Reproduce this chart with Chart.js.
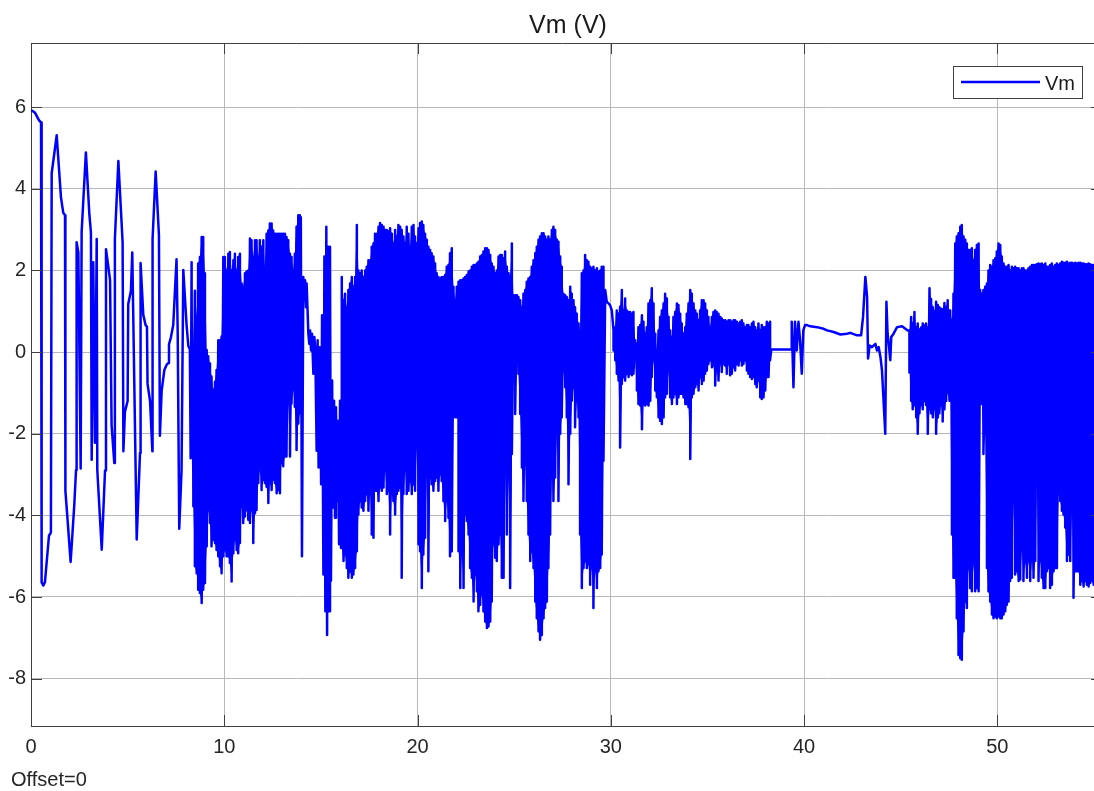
<!DOCTYPE html>
<html>
<head>
<meta charset="utf-8">
<script src="https://cdn.jsdelivr.net/npm/chart.js@4.4.1/dist/chart.umd.min.js"></script>
<style>
  html, body { margin: 0; padding: 0; background: #ffffff; }
  canvas { display: block; }
</style>
</head>
<body>
<canvas id="c" width="1094" height="791"></canvas>
<script>
// ---------- labels ----------
const titleText = "Vm (V)";
const seriesName = "Vm";
const offsetText = "Offset=0";
const xTickValues = [0, 10, 20, 30, 40, 50];
const yTickValues = [-8, -6, -4, -2, 0, 2, 4, 6];
const xRange = [0, 55];
const yRange = [-9.16, 7.57];

// ---------- sparse parts: single samples (time s, Vm V) ----------
const earlyT = [0,0.10,0.21,0.41,0.52,0.55,0.64,0.72,0.93,1.03,1.07,1.33,1.55,1.67,1.76,1.78,1.90,2.05,2.24,2.33,2.36,2.45,2.57,2.62,2.84,3.02,3.10,3.14,3.22,3.31,3.40,3.43,3.66,3.83,3.88,4.00,4.09,4.17,4.31,4.34,4.52,4.74,4.78,4.86,5.00,5.03,5.17,5.24,5.47,5.64,5.67,5.81,5.93,6.00,6.03,6.16,6.28,6.29,6.45,6.62,6.67,6.76,6.90,7.02,7.10,7.14,7.24,7.36,7.53,7.59,7.67,7.79,7.88,8.05,8.14,8.22,8.26];
const earlyV = [5.92,5.90,5.86,5.68,5.62,-5.64,-5.72,-5.64,-4.50,-4.42,4.38,5.31,3.79,3.41,3.35,-3.40,-4.16,-5.14,-3.74,-2.89,2.69,2.44,-2.85,2.94,4.89,3.37,2.94,-2.64,2.20,-2.22,2.77,-2.89,-4.84,-2.90,2.52,2.10,1.76,-1.80,-2.72,2.77,4.68,2.69,-2.43,-1.46,-1.20,1.17,1.50,2.44,-4.59,-2.47,2.18,0.91,0.66,0.62,-0.78,-1.20,-2.43,2.77,4.42,2.86,-2.05,-0.95,-0.44,-0.31,-0.27,0.19,0.36,0.66,2.27,0.49,-4.33,-2.89,2.01,0.66,0.15,0.07,-2.60];

const transAT = [13.96,14.02,14.09,14.14,14.18,14.23,14.26,14.31,14.35,14.40,14.44,14.49,14.54,14.61,14.66,14.71,14.78,14.83,14.88,14.95,15.01,15.06,15.13,15.18,15.23,15.28,15.32,15.37,15.42,15.47,15.52,15.58,15.63,15.68,15.73,15.78,15.83,15.89,15.94,15.99,16.04];
const transAV = [3.3,-5.0,1.84,1.27,1.76,1.1,1.68,1.02,0.45,0.2,0.53,0.04,0.45,-0.53,0.37,0.04,-2.42,0.29,-2.83,0.12,-3.24,0.9,-5.45,2.34,-6.35,3.07,-6.93,2.58,-6.35,2.58,-5.6,-0.7,-3.81,-1.19,-4.06,-1.35,-3.65,-1.68,-4.71,-1.19,-4.8];

const tailBT = [29.71,29.79,29.88,29.96,30.05];
const tailBV = [1.52,1.23,1.19,1.15,1.02];

const calmT = [38.30,39.34,39.36,39.45,39.53,39.62,39.71,39.79,39.88,39.96,40.05,40.15,40.32,40.67,41.01,41.19,41.53,41.88,42.22,42.39,42.74,42.95,43.05,43.17,43.26,43.31,43.39,43.51,43.69,43.77,43.86,43.95,44.03,44.12,44.20,44.26,44.32,44.38,44.46,44.51,44.63,44.81,45.07,45.36];
const calmV = [0.06,0.06,0.74,-0.86,0.74,0.04,0.74,0.29,-0.53,0.53,0.66,0.66,0.63,0.61,0.57,0.53,0.49,0.43,0.45,0.47,0.41,0.41,0.86,1.84,1.35,-0.16,0.16,0.12,0.2,0.04,0.12,-0.12,-0.45,-1.27,-2.0,1.23,0.45,0.2,-0.2,0.37,0.45,0.61,0.63,0.53];

// ---------- dense bursts: per sample time, the max and min reached ----------
const burstAT = [8.31,8.40,8.48,8.57,8.65,8.74,8.83,8.91,9.00,9.09,9.17,9.26,9.34,9.43,9.52,9.60,9.69,9.78,9.86,9.95,10.03,10.12,10.21,10.29,10.38,10.47,10.55,10.64,10.72,10.81,10.90,10.98,11.07,11.15,11.24,11.33,11.41,11.50,11.59,11.67,11.76,11.84,11.93,12.02,12.10,12.19,12.28,12.36,12.45,12.53,12.62,12.71,12.79,12.88,12.96,13.05,13.14,13.22,13.31,13.40,13.48,13.57,13.65,13.74,13.83,13.91];
const burstAMax = [2.2,0.2,1.5,0.86,2.17,2.33,2.82,2.82,1.93,0.05,-0.1,-0.28,-0.6,-0.93,-0.73,-0.44,0.29,0.29,0.38,2.33,2.33,2.0,2.41,2.45,2.0,2.25,2.41,2.0,2.33,2.41,1.68,1.6,1.93,1.97,2.0,2.78,2.74,2.33,2.74,2.74,2.33,2.74,2.58,2.74,2.09,2.9,2.98,3.15,3.15,2.98,2.9,2.9,2.9,2.9,2.9,2.9,2.9,2.82,2.74,2.41,2.33,2.0,2.41,3.07,3.35,3.35];
const burstAMin = [-2.56,-3.78,-5.25,-5.42,-5.82,-5.9,-6.15,-5.82,-5.66,-4.76,-3.87,-4.19,-4.76,-4.6,-4.68,-4.85,-5.0,-5.25,-5.42,-5.0,-4.85,-5.0,-5.0,-5.17,-5.62,-4.93,-4.6,-4.85,-4.93,-4.68,-3.78,-4.19,-4.03,-3.87,-4.11,-4.19,-3.87,-4.68,-3.95,-3.87,-3.21,-2.89,-3.38,-3.13,-3.21,-3.3,-3.7,-3.21,-3.38,-3.13,-3.21,-3.46,-3.38,-3.46,-2.72,-2.8,-2.56,-2.56,-1.26,-2.56,-1.26,-0.93,-1.34,-2.4,-1.75,-1.5];

const burstB1T = [16.08,16.17,16.25,16.34,16.42,16.51,16.60,16.68,16.77,16.86,16.94,17.03,17.11,17.20,17.29,17.37,17.46,17.55,17.63,17.72,17.80,17.89,17.98,18.06,18.15,18.24,18.32,18.41,18.49,18.58,18.67,18.75,18.84,18.93,19.01,19.10,19.18,19.27,19.36,19.44,19.53,19.61,19.70,19.79,19.87,19.96,20.05,20.13,20.22,20.30,20.39,20.48,20.56,20.65,20.73,20.82,20.91,20.99,21.08,21.17,21.25,21.34,21.43,21.51,21.60,21.68,21.77,21.86,21.94,22.03];
const burstB1Max = [1.84,1.27,1.43,1.1,1.52,1.68,1.84,1.6,1.84,3.11,2.0,1.93,2.0,1.84,2.0,2.09,2.25,2.25,2.58,2.66,2.9,2.9,3.07,3.16,3.11,3.07,2.99,2.99,2.95,3.03,2.9,2.66,2.99,2.83,3.11,3.07,2.99,2.83,2.66,3.07,2.9,2.58,3.07,3.11,2.83,2.66,3.03,3.16,3.2,3.11,2.9,2.75,2.58,2.5,2.42,2.34,2.17,1.93,1.84,1.8,1.84,1.84,1.89,2.09,2.13,2.42,2.54,1.6,1.27,1.6];
const burstB1Min = [-4.8,-5.12,-4.96,-5.29,-5.53,-5.37,-5.53,-5.45,-5.29,-4.88,-3.98,-3.65,-3.81,-3.89,-3.65,-3.48,-3.89,-3.48,-4.47,-4.55,-3.4,-3.4,-3.65,-3.32,-3.4,-3.32,-2.91,-3.48,-3.4,-4.47,-3.48,-3.65,-3.98,-3.48,-3.4,-3.32,-5.53,-3.48,-2.91,-3.48,-3.4,-3.16,-3.48,-3.24,-3.4,-2.34,-4.71,-4.88,-5.78,-4.96,-4.55,-2.99,-5.37,-3.07,-3.24,-3.4,-3.16,-3.07,-3.4,-2.99,-3.16,-3.65,-4.14,-3.65,-4.06,-5.0,-4.88,-1.52,-1.6,-1.6];

const burstB2T = [22.12,22.21,22.29,22.38,22.46,22.55,22.64,22.72,22.81,22.90,22.98,23.07,23.15,23.24,23.33,23.41,23.50,23.59,23.67,23.76,23.84,23.93,24.02,24.10,24.19,24.28,24.36,24.45,24.53,24.62,24.71,24.79,24.88,24.96,25.05,25.14,25.22,25.31,25.40,25.48,25.57,25.65,25.74,25.83,25.91,26.00,26.09,26.17,26.26,26.34,26.43,26.52,26.60,26.69,26.77,26.86,26.95,27.03,27.12,27.21,27.29,27.38,27.46,27.55,27.64,27.72,27.81,27.90,27.98,28.07,28.15,28.24,28.33,28.41,28.50,28.59,28.67,28.76,28.84,28.93,29.02,29.10,29.19,29.28,29.36,29.45,29.53,29.62];
const burstB2Max = [1.72,1.76,1.76,1.8,1.84,1.89,1.97,2.0,2.09,2.13,2.13,2.17,2.21,2.34,2.38,2.46,2.54,2.54,2.5,2.38,2.17,2.09,1.93,2.0,2.34,2.38,2.38,2.3,2.46,2.09,1.93,1.84,2.66,1.39,1.39,1.39,1.35,1.27,1.1,1.43,1.52,1.72,1.8,1.84,2.09,2.25,2.42,2.58,2.75,2.83,2.91,2.91,2.83,2.75,2.83,2.75,2.99,3.07,2.99,2.75,2.7,2.34,2.09,1.43,1.39,1.35,1.27,1.6,1.43,1.27,1.1,0.94,0.7,0.53,1.93,2.0,2.38,2.25,2.21,2.09,2.05,2.09,2.0,2.05,1.97,2.0,2.09,2.09];
const burstB2Min = [-4.88,-5.78,-4.96,-5.78,-3.98,-4.14,-4.47,-5.29,-5.53,-6.11,-5.45,-5.86,-6.35,-6.19,-5.94,-6.35,-6.6,-6.76,-6.72,-6.6,-6.11,-4.71,-5.04,-5.12,-4.71,-4.47,-5.53,-5.53,-2.99,-4.47,-3.07,-5.78,-2.5,-0.53,-1.52,-0.2,-0.53,-1.52,-2.83,-3.65,-2.75,-3.65,-4.47,-5.12,-4.88,-5.29,-6.11,-6.52,-6.84,-7.05,-6.93,-6.52,-6.27,-6.11,-5.29,-4.47,-3.07,-3.65,-3.07,-2.0,-3.65,-2.0,-1.6,-0.45,-0.86,-1.6,-3.24,-2.0,-1.19,-0.86,-1.84,-1.19,-1.6,-4.47,-5.78,-5.29,-5.12,-5.29,-5.2,-5.7,-5.29,-6.27,-5.37,-5.78,-5.37,-5.29,-4.96,-2.66];

const burstCT = [30.14,30.23,30.31,30.40,30.48,30.57,30.66,30.74,30.83,30.92,31.00,31.09,31.17,31.26,31.35,31.43,31.52,31.61,31.69,31.78,31.86,31.95,32.04,32.12,32.21,32.30,32.38,32.47,32.55,32.64,32.73,32.81,32.90,32.99,33.07,33.16,33.24,33.33,33.42,33.50,33.59,33.67,33.76,33.85,33.93,34.02,34.11,34.19,34.28,34.37,34.45,34.54,34.62,34.71,34.80,34.88,34.97,35.05,35.14,35.23,35.31,35.40,35.48,35.57,35.66,35.74,35.83,35.92,36.00,36.09,36.17,36.26,36.35,36.43,36.52,36.61,36.69,36.78,36.86,36.95,37.04,37.12,37.21,37.30,37.38,37.47,37.55,37.64,37.73,37.81,37.90,37.99,38.07,38.16,38.24];
const burstCMax = [0.53,0.61,1.02,0.94,1.11,1.52,1.02,1.31,1.02,0.98,0.98,0.94,0.98,0.29,0.2,0.61,0.66,0.9,0.74,0.45,0.61,1.19,1.27,1.56,1.19,0.45,0.04,0.53,0.86,1.02,1.19,1.43,1.31,0.86,0.53,0.37,0.86,0.98,1.19,1.15,0.94,0.7,0.45,0.61,0.94,1.19,1.52,1.43,1.19,1.02,0.94,0.78,1.02,1.27,1.27,1.19,1.02,0.86,0.61,0.86,0.98,1.02,0.98,0.94,0.86,0.82,0.78,0.78,0.74,0.78,0.78,0.74,0.78,0.78,0.74,0.7,0.74,0.78,0.7,0.61,0.66,0.66,0.61,0.7,0.74,0.61,0.53,0.7,0.53,0.66,0.61,0.61,0.74,0.7,0.74];
const burstCMin = [0.04,-0.2,-0.53,-0.7,-2.34,-0.78,-0.61,-0.7,-0.53,-0.61,-0.53,-0.57,-0.53,-0.2,-0.94,-1.27,-1.31,-1.89,-1.27,-1.31,-1.27,-1.31,-1.19,-0.61,-0.2,-0.94,-1.11,-1.6,-1.68,-1.76,-1.6,-1.11,-1.02,-0.45,-1.11,-1.27,-1.11,-1.02,-1.27,-1.11,-1.02,-1.02,-1.11,-1.27,-1.27,-1.35,-2.62,-1.11,-1.02,-0.86,-0.78,-0.94,-0.61,-0.78,-0.7,-0.53,-0.45,-0.29,-0.2,-0.37,-0.33,-0.82,-0.45,-0.7,-0.29,-0.49,-0.29,-0.33,-0.53,-0.29,-0.57,-0.53,-0.37,-0.45,-0.29,-0.33,-0.2,-0.33,-0.29,-0.2,-0.45,-0.53,-0.61,-0.66,-0.61,-0.78,-0.86,-0.7,-1.11,-1.15,-1.11,-0.94,-0.61,-0.61,-0.2];

const burstDT = [45.45,45.54,45.62,45.71,45.80,45.88,45.97,46.05,46.14,46.23,46.31,46.40,46.49,46.57,46.66,46.74,46.83,46.92,47.00,47.09,47.17,47.26,47.35,47.43,47.52];
const burstDMax = [0.53,0.86,0.7,0.98,0.6,0.7,0.55,0.6,0.7,0.65,0.7,0.6,1.56,1.3,1.1,1.0,1.23,1.15,1.1,1.06,1.05,1.2,1.1,1.27,1.02];
const burstDMin = [-0.5,-1.19,-1.4,-1.3,-1.6,-2.0,-1.5,-1.3,-1.4,-1.2,-1.3,-2.0,-1.4,-1.5,-1.6,-1.4,-2.0,-1.6,-1.5,-1.3,-1.7,-1.4,-1.2,-1.0,-1.19];

const burstET = [47.56,47.65,47.73,47.82,47.90,47.99,48.08,48.16,48.25,48.34,48.42,48.51,48.59,48.68,48.77,48.85,48.94,49.03,49.11,49.20,49.28,49.37,49.46,49.54,49.63,49.72,49.80,49.89,49.97,50.06,50.15,50.23,50.32,50.41,50.49,50.58,50.66,50.75,50.84,50.92,51.01,51.10,51.18,51.27,51.35,51.44,51.53,51.61,51.70,51.79,51.87,51.96,52.04,52.13,52.22,52.30,52.39,52.48,52.56,52.65,52.73,52.82,52.91,52.99,53.08,53.17,53.25,53.34,53.42,53.51,53.60,53.68,53.77,53.86,53.94,54.03,54.11,54.20,54.29,54.37,54.46,54.55,54.63,54.72,54.80,54.89,54.98];
const burstEMax = [1.02,0.78,1.43,2.66,2.83,2.91,3.07,3.11,2.83,2.75,2.66,2.5,2.5,2.54,2.25,2.5,2.62,2.66,1.52,1.43,1.52,1.6,1.68,2.0,2.13,2.09,2.25,2.3,2.46,2.66,2.62,2.34,2.17,2.09,2.09,2.13,2.0,2.09,2.05,2.09,2.05,2.05,2.0,2.05,2.05,2.0,2.0,2.05,2.09,2.13,2.13,2.13,2.15,2.17,2.15,2.17,2.13,2.17,2.09,2.09,2.13,2.17,2.09,2.13,2.17,2.13,2.17,2.21,2.19,2.19,2.21,2.17,2.19,2.19,2.17,2.19,2.17,2.19,2.19,2.17,2.17,2.15,2.15,2.17,2.15,2.13,2.13];
const burstEMin = [-1.19,-4.47,-5.53,-5.53,-6.52,-7.42,-7.5,-7.54,-6.84,-6.11,-6.27,-5.29,-5.78,-5.86,-5.2,-5.86,-5.78,-5.86,-1.19,-1.27,-2.5,-2.0,-5.29,-5.86,-6.11,-6.43,-6.52,-6.48,-6.52,-6.48,-6.52,-6.52,-6.43,-6.35,-6.19,-6.11,-5.61,-5.53,-3.65,-5.45,-5.37,-5.61,-5.57,-4.84,-5.61,-5.16,-5.53,-5.12,-5.61,-5.12,-5.53,-5.12,-3.16,-5.61,-5.12,-5.53,-5.78,-5.78,-5.37,-5.29,-5.78,-5.7,-5.37,-5.29,-5.29,-3.48,-3.65,-3.89,-3.98,-4.3,-5.12,-4.96,-5.12,-3.89,-6.02,-5.37,-5.37,-5.37,-5.7,-5.61,-5.74,-5.61,-5.7,-5.74,-5.66,-5.61,-5.7];

// ---------- assemble ----------
function single(ts, vs) {
  if (ts.length !== vs.length) console.warn('length mismatch', ts.length, vs.length);
  const out = [];
  for (let i = 0; i < Math.min(ts.length, vs.length); i++) out.push({ x: ts[i], y: vs[i] });
  return out;
}
function maxMin(ts, hi, lo) {
  if (ts.length !== hi.length || ts.length !== lo.length) console.warn('length mismatch', ts.length, hi.length, lo.length);
  const out = [];
  const n = Math.min(ts.length, hi.length, lo.length);
  for (let i = 0; i < n; i++) { out.push({ x: ts[i], y: hi[i] }); out.push({ x: ts[i], y: lo[i] }); }
  return out;
}
const points = [].concat(
  single(earlyT, earlyV),
  maxMin(burstAT, burstAMax, burstAMin),
  single(transAT, transAV),
  maxMin(burstB1T, burstB1Max, burstB1Min),
  maxMin(burstB2T, burstB2Max, burstB2Min),
  single(tailBT, tailBV),
  maxMin(burstCT, burstCMax, burstCMin),
  single(calmT, calmV),
  maxMin(burstDT, burstDMax, burstDMin),
  maxMin(burstET, burstEMax, burstEMin)
);

const FONT = '"Liberation Sans", Arial, Helvetica, sans-serif';
const AXIS = '#404040';
const GRID = '#b8b8b8';
const LINE = '#0000ff';

// band datasets: the area swept by the trace inside each burst (max to min)
const bursts = [
  [burstAT, burstAMax, burstAMin],
  [burstB1T, burstB1Max, burstB1Min],
  [burstB2T, burstB2Max, burstB2Min],
  [burstCT, burstCMax, burstCMin],
  [burstDT, burstDMax, burstDMin],
  [burstET, burstEMax, burstEMin]
];
const bandSets = [];
bursts.forEach(([t, hi, lo]) => {
  bandSets.push({ label: '_max', data: single(t, hi), borderWidth: 0, borderColor: 'rgba(0,0,0,0)', pointRadius: 0, fill: false, order: 2 });
  bandSets.push({ label: '_min', data: single(t, lo), borderWidth: 0, borderColor: 'rgba(0,0,0,0)', pointRadius: 0, fill: '-1', backgroundColor: LINE, order: 2 });
});

const decor = {
  id: 'decor',
  afterDraw(chart) {
    const { ctx, chartArea: a, scales } = chart;
    const xs = scales.x, ys = scales.y;
    ctx.save();
    ctx.strokeStyle = AXIS; ctx.lineWidth = 1;
    ctx.beginPath();
    ctx.moveTo(a.left, a.top + 0.5); ctx.lineTo(a.right, a.top + 0.5);
    ctx.stroke();
    const TL = 11;
    ctx.beginPath();
    xTickValues.forEach(v => {
      const px = Math.round(xs.getPixelForValue(v)) + 0.5;
      ctx.moveTo(px, a.bottom); ctx.lineTo(px, a.bottom - TL);
      ctx.moveTo(px, a.top); ctx.lineTo(px, a.top + TL);
    });
    yTickValues.forEach(v => {
      const py = Math.round(ys.getPixelForValue(v)) + 0.5;
      ctx.moveTo(a.left, py); ctx.lineTo(a.left + TL, py);
      ctx.moveTo(a.right, py); ctx.lineTo(a.right - 3, py);
    });
    ctx.stroke();
    ctx.fillStyle = '#1a1a1a';
    ctx.font = '25px ' + FONT;
    ctx.textAlign = 'center'; ctx.textBaseline = 'alphabetic';
    ctx.fillText(titleText, 568, 33);
    ctx.fillStyle = '#262626';
    ctx.font = '20px ' + FONT;
    ctx.textAlign = 'left';
    ctx.fillText(offsetText, 11, 786);
    const bx = 953.5, by = 66.5, bw = 129, bh = 32;
    ctx.fillStyle = '#ffffff';
    ctx.fillRect(bx, by, bw, bh);
    ctx.strokeStyle = '#404040'; ctx.lineWidth = 1;
    ctx.strokeRect(bx, by, bw, bh);
    ctx.strokeStyle = LINE; ctx.lineWidth = 2.5;
    ctx.beginPath(); ctx.moveTo(961, 82); ctx.lineTo(1040, 82); ctx.stroke();
    ctx.fillStyle = '#1a1a1a';
    ctx.font = '20px ' + FONT;
    ctx.textAlign = 'left';
    ctx.fillText(chart.data.datasets[0].label, 1045, 90);
    ctx.restore();
  }
};

new Chart(document.getElementById('c'), {
  type: 'line',
  data: {
    datasets: [{
      label: seriesName,
      data: points,
      borderColor: LINE,
      borderWidth: 2.5,
      borderJoinStyle: 'round',
      pointRadius: 0,
      fill: false,
      tension: 0,
      order: 1
    }].concat(bandSets)
  },
  options: {
    responsive: false,
    animation: false,
    devicePixelRatio: 1,
    layout: { padding: { top: 43, left: 0, right: 0, bottom: 0 } },
    plugins: { legend: { display: false }, title: { display: false }, tooltip: { enabled: false }, filler: { propagate: false } },
    scales: {
      x: {
        type: 'linear',
        min: xRange[0], max: xRange[1],
        afterFit(s) { s.height = 65; },
        afterBuildTicks(s) { s.ticks = xTickValues.map(v => ({ value: v })); },
        ticks: { font: { size: 20, family: FONT }, color: '#262626', padding: 9, maxRotation: 0, autoSkip: false, callback: v => String(v) },
        grid: { color: GRID, lineWidth: 1, drawTicks: false },
        border: { display: true, color: AXIS, width: 1 }
      },
      y: {
        type: 'linear',
        min: yRange[0], max: yRange[1],
        afterFit(s) { s.width = 31; },
        afterBuildTicks(s) { s.ticks = yTickValues.map(v => ({ value: v })); },
        ticks: { font: { size: 20, family: FONT }, color: '#262626', padding: 5, autoSkip: false, callback: v => String(v) },
        grid: { color: GRID, lineWidth: 1, drawTicks: false },
        border: { display: true, color: AXIS, width: 1 }
      }
    }
  },
  plugins: [decor]
});
</script>
</body>
</html>
